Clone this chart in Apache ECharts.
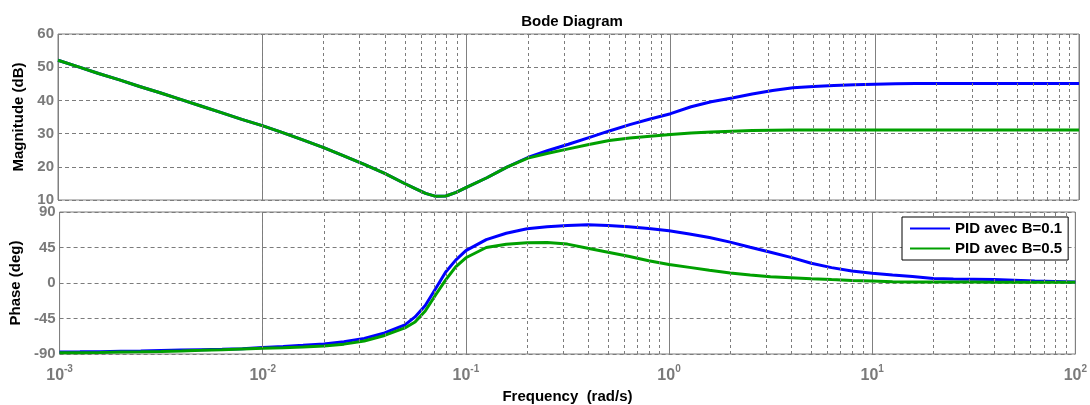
<!DOCTYPE html>
<html>
<head>
<meta charset="utf-8">
<script src="https://cdn.jsdelivr.net/npm/echarts@6/dist/echarts.min.js"></script>
<style>
html,body{margin:0;padding:0;background:#fff;}
#chart{width:1090px;height:405px;}
</style>
</head>
<body>
<div id="chart"></div>
<script>
const freq = [0.001, 0.00126, 0.00158, 0.002, 0.00251, 0.00316, 0.00398, 0.00501, 0.00631, 0.00794,
  0.01, 0.0126, 0.0158, 0.02, 0.0251, 0.0316, 0.0398, 0.0501, 0.0562, 0.0631, 0.0708, 0.0794, 0.0891,
  0.1, 0.126, 0.158, 0.2, 0.251, 0.316, 0.398, 0.501, 0.631, 0.794,
  1, 1.26, 1.58, 2, 2.51, 3.16, 3.98, 5.01, 6.31, 7.94,
  10, 12.6, 15.8, 20, 25.1, 31.6, 39.8, 50.1, 63.1, 79.4, 100];
// Magnitude (dB)
const magB01 = [52.1, 50.1, 48.1, 46.2, 44.2, 42.3, 40.3, 38.3, 36.3, 34.3,
  32.4, 30.3, 28.1, 25.8, 23.3, 20.7, 18.0, 14.9, 13.4, 12.0, 11.1, 11.2, 12.3,
  13.8, 16.7, 19.9, 22.8, 24.9, 26.8, 28.8, 30.8, 32.7, 34.4,
  36.0, 38.1, 39.6, 40.7, 41.9, 43.0, 43.8, 44.2, 44.5, 44.7,
  44.9, 45.0, 45.1, 45.1, 45.1, 45.1, 45.1, 45.1, 45.1, 45.1, 45.1];
const magB05 = [52.1, 50.1, 48.1, 46.2, 44.2, 42.3, 40.3, 38.3, 36.3, 34.3,
  32.4, 30.3, 28.1, 25.8, 23.3, 20.7, 18.0, 14.9, 13.4, 12.0, 11.1, 11.2, 12.3,
  13.8, 16.7, 19.9, 22.6, 24.1, 25.4, 26.7, 27.9, 28.7, 29.2,
  29.7, 30.2, 30.5, 30.7, 30.9, 31.0, 31.1, 31.1, 31.1, 31.1,
  31.1, 31.1, 31.1, 31.1, 31.1, 31.1, 31.1, 31.1, 31.1, 31.1, 31.1];
// Phase (deg)
const phaseB01 = [-87.5, -87.3, -87.0, -86.6, -86.2, -85.6, -85.0, -84.5, -84.0, -83.3,
  -81.8, -80.5, -79.0, -77.2, -74.5, -70.2, -63.3, -53.0, -43.0, -28.5, -7.5, 13.7, 29.0,
  41.0, 55.0, 63.0, 68.8, 71.2, 72.8, 73.9, 73.0, 71.3, 69.0,
  66.2, 62.0, 57.6, 51.8, 45.3, 39.0, 32.5, 25.0, 19.5, 15.2,
  12.5, 10.2, 8.2, 5.8, 5.0, 4.7, 4.3, 3.5, 2.6, 2.0, 1.4];
const phaseB05 = [-88.5, -88.3, -88.0, -87.6, -87.2, -86.7, -86.1, -85.4, -84.6, -83.6,
  -82.7, -82.0, -81.2, -80.0, -77.5, -73.5, -66.5, -57.0, -49.5, -35.5, -15.5, 3.6, 20.5,
  32.0, 45.0, 49.2, 51.1, 51.2, 49.3, 44.0, 39.0, 33.8, 28.1,
  23.5, 19.8, 16.1, 12.8, 10.0, 8.0, 6.8, 5.5, 4.3, 3.3,
  2.5, 1.7, 1.4, 1.4, 1.3, 1.2, 1.1, 1.0, 1.0, 0.9, 0.9];

const seriesNames = ['PID avec B=0.1', 'PID avec B=0.5'];
const decades = [0.001, 0.01, 0.1, 1, 10];
const minorMult = [2, 3, 4, 5, 6, 7, 8, 9];

const minorLines = [];
decades.forEach(d => minorMult.forEach(m => minorLines.push({ xAxis: +(d * m).toPrecision(3) })));

const zip = (xs, ys) => xs.map((x, i) => [x, ys[i]]);

const FONT = 'Liberation Sans, Arial, sans-serif';
const gray = '#7a7a7a';
const gridGray = '#7c7c7c';
const tickFont = { fontSize: 15, fontWeight: 'bold', color: gray, fontFamily: FONT };

const minorMark = {
  silent: true, symbol: 'none', animation: false,
  label: { show: false },
  lineStyle: { type: [3, 3], color: gridGray, width: 1 },
  data: minorLines
};

function xAxisCfg(gridIndex, showLabels) {
  return {
    type: 'log', logBase: 10, min: 0.001, max: 100, gridIndex,
    axisLine: { show: false },
    axisTick: { show: false },
    splitLine: { show: true, lineStyle: { color: '#808080', width: 1, type: 'solid' } },
    axisLabel: showLabels ? {
      margin: 10,
      formatter: v => '{b|10}{s|' + Math.round(Math.log10(v)) + '}',
      rich: {
        b: { fontSize: 16, fontWeight: 'bold', color: gray, fontFamily: FONT, lineHeight: 20, verticalAlign: 'bottom' },
        s: { fontSize: 10, fontWeight: 'bold', color: gray, fontFamily: FONT, verticalAlign: 'top', lineHeight: 20 }
      }
    } : { show: false },
    name: showLabels ? 'Frequency  (rad/s)' : '',
    nameLocation: 'middle', nameGap: 35,
    nameTextStyle: { fontSize: 15, fontWeight: 'bold', color: '#000', fontFamily: FONT }
  };
}

function yAxisCfg(gridIndex, min, max, interval, name, gap) {
  return {
    type: 'value', gridIndex, min, max, interval,
    axisLine: { show: false }, axisTick: { show: false },
    axisLabel: Object.assign({ margin: 4 }, tickFont),
    splitLine: { show: true, lineStyle: { color: gridGray, type: [4, 3], width: 1 } },
    name, nameLocation: 'middle', nameGap: gap,
    nameTextStyle: { fontSize: 15, fontWeight: 'bold', color: '#000', fontFamily: FONT }
  };
}

function lineSeries(name, xi, data, color, z, mark) {
  const s = {
    name, type: 'line', xAxisIndex: xi, yAxisIndex: xi, data,
    showSymbol: false, smooth: false,
    lineStyle: { color, width: 3 }, itemStyle: { color }, z
  };
  if (mark) s.markLine = minorMark;
  return s;
}

const chart = echarts.init(document.getElementById('chart'), null, { renderer: 'canvas' });
chart.setOption({
  animation: false,
  backgroundColor: '#fff',
  title: {
    text: 'Bode Diagram', left: 567, top: 9, textAlign: 'center',
    textStyle: { fontSize: 15, fontWeight: 'bold', color: '#000', fontFamily: FONT }
  },
  legend: {
    data: seriesNames, orient: 'vertical', left: 902, top: 217, z: 20,
    icon: 'rect', itemWidth: 40, itemHeight: 2, itemGap: 5,
    backgroundColor: '#fff', borderColor: '#000', borderWidth: 1, borderRadius: 0,
    padding: [4, 6, 4, 8],
    textStyle: { fontSize: 15, fontWeight: 'bold', color: '#000', fontFamily: FONT }
  },
  grid: [
    { left: 58, top: 34, width: 1021, height: 166, show: true, borderColor: '#808080', borderWidth: 1, backgroundColor: 'transparent' },
    { left: 58, top: 212, width: 1021, height: 145, show: true, borderColor: '#808080', borderWidth: 1, backgroundColor: 'transparent' }
  ],
  xAxis: [xAxisCfg(0, false), xAxisCfg(1, true)],
  yAxis: [
    yAxisCfg(0, 10, 60, 10, 'Magnitude (dB)', 28),
    yAxisCfg(1, -90, 90, 45, 'Phase (deg)', 32)
  ],
  series: [
    lineSeries(seriesNames[0], 0, zip(freq, magB01), '#0000ff', 3, true),
    lineSeries(seriesNames[1], 0, zip(freq, magB05), '#00a000', 4, false),
    lineSeries(seriesNames[0], 1, zip(freq, phaseB01), '#0000ff', 3, true),
    lineSeries(seriesNames[1], 1, zip(freq, phaseB05), '#00a000', 4, false)
  ]
});
</script>
</body>
</html>
